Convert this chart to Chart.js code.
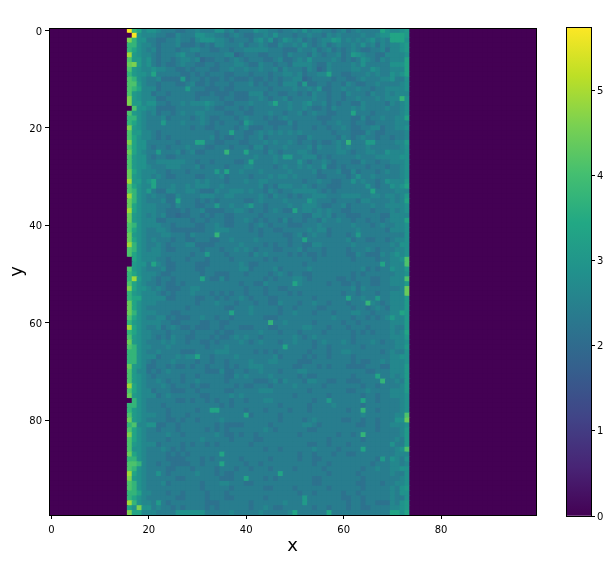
<!DOCTYPE html>
<html>
<head>
<meta charset="utf-8">
<style>
  html, body { margin: 0; padding: 0; background: #fff; }
  #wrap { position: relative; width: 611px; height: 561px; overflow: hidden; }
  canvas { position: absolute; top: 0; }
</style>
<script src="https://cdn.jsdelivr.net/npm/chart.js@4"></script>
</head>
<body>
<div id="wrap">
  <canvas id="heat" width="611" height="561" style="left:0"></canvas>
  <canvas id="bar" width="71" height="561" style="left:540px"></canvas>
</div>
<script>
// axis ticks
var xTicks = [0, 20, 40, 60, 80];
var yTicks = [0, 20, 40, 60, 80];
var barTicks = [0, 1, 2, 3, 4, 5];
var barMax = 5.74;

// value of each character used in the rows below
var levelChars = '0123456789abcde';
var levelValues = [0, 1.8, 1.95, 2.15, 2.4, 2.65, 2.9, 3.1, 3.35, 3.75, 4.1, 4.4, 4.6, 4.9, 5.7];

// columns outside this band are all 0
var firstCol = 16;
var size = 100;

// one string per row, columns 16-19, 20-29, 30-39 ... 70-73
var rows = [
'e985 6654443344 5444664534 4465544344 5464554434 5345444486 5567',
'0e65 5544335444 6655443454 3344546444 3445443545 4444544566 8887',
'c966 4433445443 5666554344 4356463465 4534345576 4545456454 8886',
'9965 5434445333 4343554445 3445433544 5464345345 4454645354 5567',
'9865 4534443445 5443344344 5555544433 3544534534 3454334453 5567',
'd765 5434445644 3444445523 4443344435 4443543445 3476544335 5556',
'a775 6434434554 5233443454 3444334533 4546444454 3434654354 5558',
'bc75 6434334544 3344344455 4335443443 5555433544 4454644444 6668',
'a765 5655443343 4443344544 5445445354 4435423544 4455446544 5558',
'9766 5844444334 3434443344 4344434455 4534455844 3344454544 6568',
'a965 4453333734 4343343433 3433434344 5523444434 4334544455 6446',
'aa75 4434443345 3343444344 4534344355 5373344344 3543344544 4456',
'a985 5534444474 4433343344 4444434444 5445463344 5445443445 5556',
'a765 5344344444 3334333433 3555344334 4343544344 3544435445 4555',
'c765 5533444444 3444434433 3445434453 4444544344 3445444545 5596',
'c775 6644344545 5565443344 4544458445 4456445343 4433544443 5456',
'0a66 5533334444 4454334443 4344444445 4454334354 4454544445 4456',
'a765 4534434544 5544443344 3344454434 4534544334 4484443444 4456',
'9965 4445344443 4543344434 5444343454 4444433344 4433534454 4558',
'9865 4447444544 4543434443 7544433335 3444443445 4434433444 4555',
'c765 4444444443 4433444434 5333443444 3444344344 5433445534 4556',
'a775 5434444444 4444344844 3345454545 4544444434 4433354334 4445',
'a865 5434344444 4445343344 3445344444 4335444443 5434544344 3445',
'c866 4444443444 8844334443 3444545445 4344343345 4944477444 4557',
'a866 4344344454 4433444344 4355344454 4445354445 4544454444 4456',
'b865 4474445345 3344449444 8444354344 4554344445 5434455446 5556',
'a766 4344334444 4444444444 4454445477 4455534344 4445444555 5566',
'a766 4455555544 3443444433 4844445444 4643445434 4433544344 5556',
'a766 5444555444 5344443444 5544443454 4545446334 3444434443 4456',
'b865 5544344434 4444748445 4445444445 4444534445 3353444345 4456',
'b765 5454334444 3344453444 4344454554 5444433444 4346445444 4456',
'd775 6844444444 5454443444 5445544444 4434454433 4464544346 5557',
'a865 5844454454 5554454444 4445343555 4454344333 4444464344 6568',
'a965 7433554455 4333544555 4544354344 5555543434 4444448444 4555',
'd965 4544335444 4555445544 4445435443 4344555444 5555445545 5457',
'b965 4445338444 3434344444 3345444454 4447544434 4443554444 5458',
'b865 5544435444 3344744544 5744344445 4455543344 5344445445 5556',
'd865 5544333434 4533334455 4344345433 8455454544 3344443444 5456',
'b765 4545332334 4343443344 4443444444 4433554534 4333444433 5555',
'b765 5533444443 4434443344 5434344353 4434435445 4434434434 5558',
'a965 5554434444 3344543344 4345434443 3344454444 4454443454 4556',
'a865 4455433333 3344555444 4343443344 4445455344 4445444443 5556',
'b765 4445544435 4444944444 4443444433 4534544344 4347444444 4446',
'b865 4544434433 4443344544 4454444443 4484444444 4534433443 4556',
'd965 4454344455 3333444445 4444343443 4433554444 4454444444 5466',
'a965 4554334444 4344434454 5434443344 4534443444 4344454344 4556',
'a865 5554444443 4474443444 4354544443 4343343444 4335433354 5656',
'0865 5544344434 4434444344 4444343444 4444344444 4434444344 556a',
'0766 4854334444 3334444445 4334444444 4434444444 4444444484 555a',
'a765 4445334444 3344444445 5344445344 4445444444 4444534344 6557',
'9865 5543344444 4344333444 3444434543 4433444444 4434344444 4556',
'9d75 5434434444 4843353444 4444343444 5543444443 3434443344 555a',
'a865 4434334344 4444444443 4433544444 8544444344 3343443344 5557',
'c866 5454333445 5444444444 3444344334 4444444444 4453544444 445b',
'9765 5543434445 4443434344 3444344443 4344444444 3443444344 555b',
'9885 5555334444 3344343445 4344433444 4444344444 4844544744 5557',
'b865 5544444444 3444544434 4434433544 4344544344 4344495434 5557',
'b865 4444444434 4444443344 4544444344 3444433444 4434434543 5557',
'b965 5544433444 4444444844 4544444344 5444344434 4455443444 5587',
'a865 4455343334 4544344344 4444333444 4444444454 4434434345 7557',
'9765 5554433444 4334433444 4444494454 4444344444 3443444444 5557',
'd865 4453454334 3334434443 3344433444 4455444344 4344434444 5447',
'9865 5444344443 4444343344 4445444344 4344443444 4434343444 5458',
'a765 5434354433 4443433454 5443444444 5434544444 4434444444 5557',
'b765 4445454434 4334344445 4345444344 5444345444 5434445434 4556',
'a965 5444544444 4434445444 4444444484 4444344344 4444344444 4557',
'9965 4454444333 4444555444 4434343444 4443444344 5544444434 5446',
'9965 5534445455 8443444454 4444445344 4434344344 4434444444 5566',
'9965 4344454444 3443443444 4544455444 4333444444 4434334454 5556',
'b765 3344343343 4434443434 4555444444 3344434344 4333344433 5557',
'a755 3434544444 4433353344 3445444344 4554444444 4444433444 5557',
'a765 4344444344 3444443354 5444454444 4343344444 4434444844 5457',
'a765 4454344344 5444443444 4433345354 4435544334 4333444494 4547',
'd865 4445434443 4334444434 3344434444 5444443444 4444344344 4457',
'a865 5344433344 3444443344 4445554444 4443444444 4334454444 5557',
'b765 5534544444 4334444545 4444444444 3444444344 4444344344 5556',
'0965 4444443343 4434344344 3444554444 4444344744 4444844344 4456',
'9965 4443444444 4444434344 4444444344 4443444454 4444344444 4456',
'9765 4444344444 3448844444 3444344443 4443444444 4344944344 4456',
'a765 5544344434 4444444444 8344444344 4444444444 4444544444 455a',
'b765 4444334344 3444454444 4444444344 4434544444 3344344344 466b',
'9a55 6633443444 4444343333 4444434444 4455434444 4443344344 5556',
'a865 4434443444 4434343444 4444543444 4443344444 4444444344 4457',
'c865 4444544344 4444543343 4434444444 4344444443 4434944444 4457',
'a865 4444344444 4544444344 4433444444 4444444344 4444344444 4547',
'a765 5534444343 4434344444 4344444444 4443344344 4344444444 6447',
'a665 4445434344 4444444444 4444344344 4444544443 4444844444 456a',
'b865 4444343434 4444484444 4444444444 4344344434 4334444444 4555',
'9965 4444333344 4343444443 4444434444 4344334444 4444444374 6546',
'aa95 4434433334 4344484444 3443444444 4444344344 4444443444 5545',
'a965 4444334443 4444344434 4344434444 3444443444 4444344544 5566',
'd865 4464344444 5444343344 4444444844 4444444344 4443444444 5446',
'c765 4444443344 4444433344 8444343444 4444334444 4444344444 4456',
'a965 4445344444 4344455444 3344444444 4444334444 4443344434 4556',
'a965 4444444444 4344444344 4444334444 3444444344 4444344444 5467',
'9985 5444344344 4434443444 4444444444 4344344444 3443444444 5466',
'9865 4444443344 4434443344 4444344444 4474444444 3344344444 5446',
'd965 5474344444 4433344444 4344444454 4474444444 4344344333 5467',
'86c6 6454434344 4434344444 4344543344 4444344344 4344334444 5567',
'c885 5544446666 6644444544 4445444445 8444444844 4444444444 8868'
];

// viridis
var cmap = [[68,1,84],[72,36,117],[65,68,135],[53,95,141],[42,120,142],[33,145,140],[34,168,132],[68,191,112],[122,209,81],[189,223,38],[253,231,37]];

function viridis(t) {
    var p = Math.min(Math.max(t, 0), 1) * (cmap.length - 1);
    var i = Math.min(Math.floor(p), cmap.length - 2);
    var f = p - i;
    var a = cmap[i], b = cmap[i + 1];
    return 'rgb(' + Math.round(a[0] + (b[0] - a[0]) * f) + ',' + Math.round(a[1] + (b[1] - a[1]) * f) + ',' + Math.round(a[2] + (b[2] - a[2]) * f) + ')';
}

// squares overlap so no seams show, so nudge them back onto their cells
var nudge = 0.1;

// build the points from the rows
var cells = [];
rows.forEach(function (row, y) {
    var chars = row.replace(/ /g, '');
    for (var x = 0; x < size; x++) {
        var c = chars[x - firstCol];
        cells.push({ x: x + nudge, y: y + nudge, v: c ? levelValues[levelChars.indexOf(c)] : 0 });
    }
});

var tickFont = { family: '"DejaVu Sans"', size: 10 };
var titleFont = { family: '"DejaVu Sans"', size: 18 };
var tickGrid = { display: true, drawOnChartArea: false, drawTicks: true, tickLength: 4, tickColor: '#000' };

// the frame round a plot
var framePlugin = {
    id: 'frame',
    afterDraw: function (chart) {
        var a = chart.chartArea, c = chart.ctx;
        c.save();
        c.strokeStyle = '#000';
        c.lineWidth = 1;
        c.strokeRect(a.left + 0.5, a.top + 0.5, a.width, a.height);
        c.restore();
    }
};

new Chart(document.getElementById('heat').getContext('2d'), {
    type: 'scatter',
    data: {
        datasets: [{
            data: cells,
            pointStyle: 'rect',
            pointRadius: 4.2,
            pointBorderWidth: 0,
            pointBackgroundColor: function (ctx) {
                return viridis(ctx.raw.v / barMax);
            }
        }]
    },
    options: {
        responsive: false,
        animation: false,
        events: [],
        layout: { padding: { top: 28, right: 75, left: 0, bottom: 0 } },
        plugins: { legend: { display: false }, tooltip: { enabled: false } },
        scales: {
            x: {
                type: 'linear',
                min: -0.5,
                max: 99.5,
                afterFit: function (s) { s.height = 46; },
                afterBuildTicks: function (s) { s.ticks = xTicks.map(function (v) { return { value: v }; }); },
                grid: tickGrid,
                border: { display: false },
                ticks: { color: '#000', font: tickFont, maxRotation: 0, padding: 5 },
                title: { display: true, text: 'x', color: '#000', font: titleFont, padding: { top: 0, bottom: 4 } }
            },
            y: {
                type: 'linear',
                reverse: true,
                min: -0.5,
                max: 99.5,
                afterFit: function (s) { s.width = 49; },
                afterBuildTicks: function (s) { s.ticks = yTicks.map(function (v) { return { value: v }; }); },
                grid: tickGrid,
                border: { display: false },
                ticks: { color: '#000', font: tickFont, padding: 3, labelOffset: 1.5 },
                title: { display: true, text: 'y', color: '#000', font: titleFont, padding: { top: 7, bottom: 0 } }
            }
        }
    },
    plugins: [framePlugin]
});

// colorbar
new Chart(document.getElementById('bar').getContext('2d'), {
    type: 'bar',
    data: {
        labels: [''],
        datasets: [{
            data: [[0, barMax]],
            barPercentage: 1,
            categoryPercentage: 1,
            backgroundColor: function (ctx) {
                var a = ctx.chart.chartArea;
                if (!a) return '#000';
                var g = ctx.chart.ctx.createLinearGradient(0, a.bottom, 0, a.top);
                cmap.forEach(function (col, i) {
                    g.addColorStop(i / (cmap.length - 1), 'rgb(' + col.join(',') + ')');
                });
                return g;
            }
        }]
    },
    options: {
        responsive: false,
        animation: false,
        events: [],
        layout: { padding: { top: 27, right: 0, left: 26, bottom: 45 } },
        plugins: { legend: { display: false }, tooltip: { enabled: false } },
        scales: {
            x: { display: false },
            y: {
                position: 'right',
                min: 0,
                max: barMax,
                afterFit: function (s) { s.width = 20; },
                afterBuildTicks: function (s) { s.ticks = barTicks.map(function (v) { return { value: v }; }); },
                grid: tickGrid,
                border: { display: false },
                ticks: { color: '#000', font: tickFont, padding: 2, labelOffset: 1 }
            }
        }
    },
    plugins: [framePlugin]
});
</script>
</body>
</html>
